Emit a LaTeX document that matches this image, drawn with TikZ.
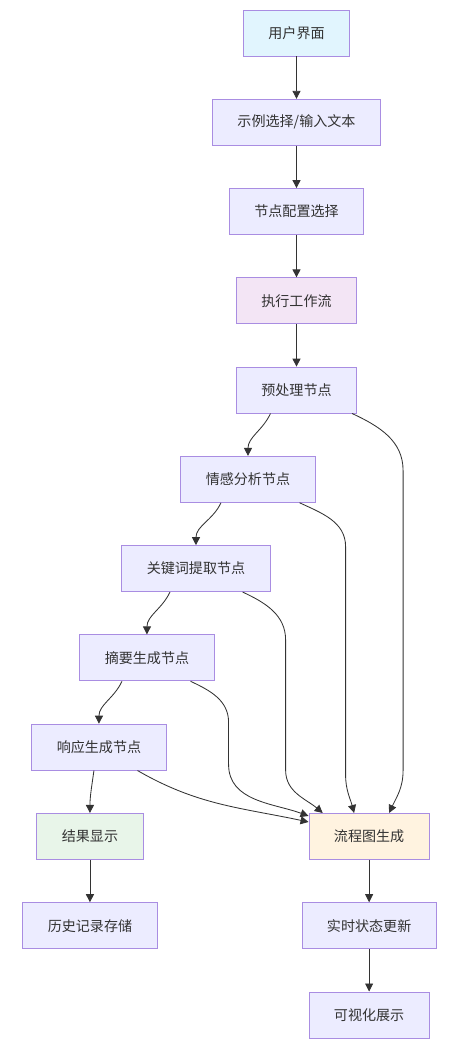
\documentclass[tikz,border=0pt]{standalone}
\usepackage{fontspec}
\setmainfont{Noto Sans CJK SC}
\usepackage{xcolor}
\usepackage{tikz}
\usetikzlibrary{positioning,arrows.meta,calc}

\definecolor{boxline}{HTML}{9370DB}
\definecolor{boxfill}{HTML}{ECECFF}
\definecolor{uifill}{HTML}{E1F5FE}
\definecolor{runfill}{HTML}{F3E5F5}
\definecolor{okfill}{HTML}{E8F5E9}
\definecolor{chartfill}{HTML}{FFF3E0}
\definecolor{inkcol}{HTML}{333333}

\begin{document}
\begin{tikzpicture}[
    x=0.025cm, y=-0.025cm,
    font=\fontsize{10pt}{12pt}\selectfont,
    node distance=1.06cm,
    % Styles
    stepnode/.style={
        rectangle,
        draw=boxline!80,
        fill=boxfill,
        line width=0.6pt,
        text=inkcol,
        minimum height=1.15cm,
        inner xsep=0.625cm
    },
    % Line Styles
    link/.style={draw=inkcol, line width=0.6pt, -{Triangle[length=2mm,width=2mm]}}
]
\useasboundingbox (0,0) rectangle (461,1048);

% --- Nodes ---

% Main Column: Input & Run
\node[stepnode, fill=uifill] (ui) at (296.5,33) {用户界面};
\node[stepnode, below=of ui] (input) {示例选择/输入文本};
\node[stepnode, below=of input] (cfg) {节点配置选择};
\node[stepnode, below=of cfg, fill=runfill] (run) {执行工作流};
\node[stepnode, below=of run] (pre) {预处理节点};

% Diagonal: Processing Nodes
\node[stepnode, below=of pre, xshift=-1.2125cm] (senti) {情感分析节点};
\node[stepnode, below=of senti, xshift=-1.3cm] (kw) {关键词提取节点};
\node[stepnode, below=of kw, xshift=-1.225cm] (summ) {摘要生成节点};
\node[stepnode, below=of summ, xshift=-1.2cm] (resp) {响应生成节点};

% Left Column: Result
\node[stepnode, below=of resp, xshift=-0.225cm, fill=okfill] (show) {结果显示};
\node[stepnode, below=of show] (hist) {历史记录存储};

% Right Column: Chart
\node[stepnode, right=4.125cm of show, fill=chartfill] (chart) {流程图生成};
\node[stepnode, below=of chart] (live) {实时状态更新};
\node[stepnode, below=of live] (vis) {可视化展示};

% --- Relationships ---

% 1. Main chain
\draw[link] (ui) -- (input);
\draw[link] (input) -- (cfg);
\draw[link] (cfg) -- (run);
\draw[link] (run) -- (pre);

% 2. Node chain
\draw[link] ([xshift=-0.65cm]pre.south) to[out=-115,in=90] (senti.north);
\draw[link] ([xshift=-0.675cm]senti.south) to[out=-115,in=90] (kw.north);
\draw[link] ([xshift=-0.65cm]kw.south) to[out=-115,in=90] (summ.north);
\draw[link] ([xshift=-0.625cm]summ.south) to[out=-115,in=90] (resp.north);
\draw[link] ([xshift=-0.125cm]resp.south) to[out=-98,in=90] (show.north);
\draw[link] (show) -- (hist);

% 3. Chart feeds
\draw[link] ([xshift=-0.125cm]pre.south east) to[out=-25,in=90] ++(51,57)
    -- ++(0,300) to[out=-90,in=65] ([xshift=0.5cm]chart.north);
\draw[link] ([xshift=-0.4cm]senti.south east) to[out=-25,in=90] ++(46,44)
    -- ++(0,228) to[out=-90,in=105] ([xshift=-0.375cm]chart.north);
\draw[link] ([xshift=-0.7cm]kw.south east) to[out=-25,in=90] ++(43,48)
    -- ++(0,130) to[out=-90,in=140] ([xshift=-1.16cm]chart.north);
\draw[link] ([xshift=-0.6cm]summ.south east) to[out=-25,in=90] ++(38,41)
    -- ++(0,42) to[out=-90,in=160] ([yshift=-0.075cm]chart.north west);
\draw[link] ([xshift=-0.725cm]resp.south east) to[out=-30,in=168] ([yshift=-0.225cm]chart.north west);

% 4. Live view
\draw[link] (chart) -- (live);
\draw[link] (live) -- (vis);

\end{tikzpicture}
\end{document}
